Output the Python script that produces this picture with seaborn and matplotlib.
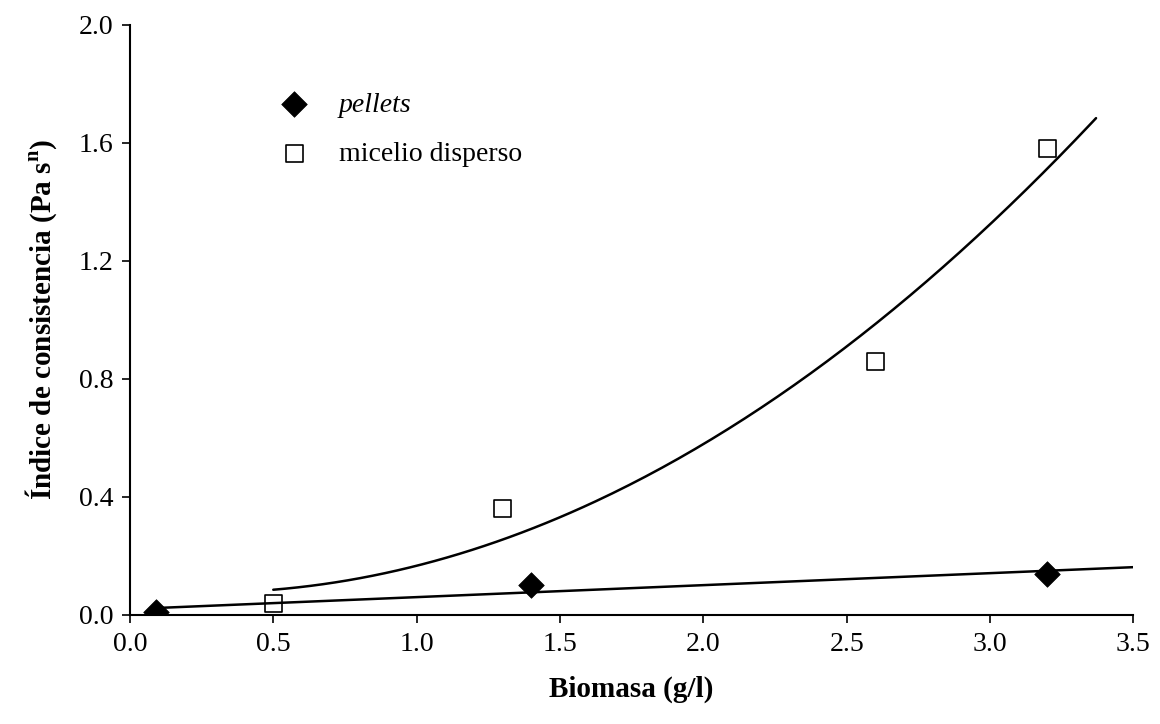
import numpy as np
import pandas as pd
import matplotlib
matplotlib.use("Agg")
import matplotlib.pyplot as plt
import seaborn as sns

# Measured points
pellets_x = [0.09, 1.40, 3.20]
pellets_y = [0.01, 0.10, 0.14]
micelio_x = [0.50, 1.30, 2.60, 3.20]
micelio_y = [0.04, 0.36, 0.86, 1.58]

# Span of each trend curve along the biomass axis
pellets_span = [0.09, 3.50]
micelio_span = [0.50, 3.37]

x_ticks = [0.0, 0.5, 1.0, 1.5, 2.0, 2.5, 3.0, 3.5]
y_ticks = [0.0, 0.4, 0.8, 1.2, 1.6, 2.0]

sns.set_theme(style="ticks")
plt.rcParams["font.family"] = ["Liberation Serif", "DejaVu Serif"]
plt.rcParams["mathtext.fontset"] = "custom"
plt.rcParams["mathtext.rm"] = "Liberation Serif:bold"
plt.rcParams["mathtext.bf"] = "Liberation Serif:bold"
plt.rcParams["text.color"] = "black"
plt.rcParams["axes.labelcolor"] = "black"

fig = plt.figure(figsize=(11.6, 7.24), dpi=100)
ax = fig.add_axes([0.112, 0.1506, 0.865, 0.815])

# Trend curves: linear fit for pellets, quadratic fit for dispersed mycelium
p_lin = np.polyfit(pellets_x, pellets_y, 1)
p_quad = np.polyfit(micelio_x, micelio_y, 2)
xs_p = np.linspace(*pellets_span, 200)
xs_m = np.linspace(*micelio_span, 200)
trend_p = pd.DataFrame({"x": xs_p, "y": np.polyval(p_lin, xs_p)})
trend_m = pd.DataFrame({"x": xs_m, "y": np.polyval(p_quad, xs_m)})
sns.lineplot(data=trend_p, x="x", y="y", ax=ax, color="black", lw=1.8, legend=False)
sns.lineplot(data=trend_m, x="x", y="y", ax=ax, color="black", lw=1.8, legend=False)

sns.scatterplot(x=pellets_x, y=pellets_y, ax=ax, marker="D", s=170,
                color="black", edgecolor="black", linewidth=0.5,
                label="pellets", zorder=5)
sns.scatterplot(x=micelio_x, y=micelio_y, ax=ax, marker="s", s=150,
                facecolor="none", edgecolor="black", linewidth=1.2,
                label="micelio disperso", zorder=5)

ax.set_xlim(0, 3.5)
ax.set_ylim(0, 2.0)
ax.set_xticks(x_ticks)
ax.set_xticklabels([f"{v:.1f}" for v in x_ticks])
ax.set_yticks(y_ticks)
ax.set_yticklabels([f"{v:.1f}" for v in y_ticks])
ax.tick_params(axis="both", direction="out", length=6, width=1.2,
               labelsize=20, colors="black", pad=6)
for side in ("top", "right"):
    ax.spines[side].set_visible(False)
for side in ("left", "bottom"):
    ax.spines[side].set_linewidth(1.5)
    ax.spines[side].set_color("black")

ax.set_xlabel("Biomasa (g/l)", fontsize=21, fontweight="bold", labelpad=14)
ax.set_ylabel(r"Índice de consistencia (Pa s$^{\mathbf{n}}$)", fontsize=21,
              fontweight="bold", labelpad=14)

leg = ax.legend(loc="upper left", bbox_to_anchor=(0.136, 0.886), frameon=False,
                fontsize=20, handletextpad=0.6, labelspacing=0.85,
                borderaxespad=0, borderpad=0)
leg.get_texts()[0].set_style("italic")

fig.savefig("out.png", dpi=100, facecolor="white")
